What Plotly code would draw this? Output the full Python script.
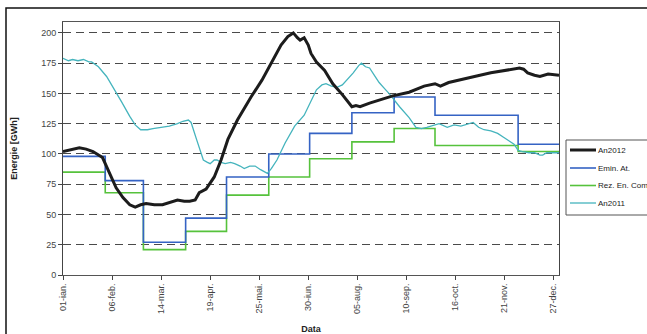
import pandas as pd
import plotly.graph_objects as go

# ---- data -------------------------------------------------------------
year_start = pd.Timestamp("2011-01-01")

# An2012 (daily energy, sampled at day-of-year offsets)
an2012_days = [0, 5, 12, 17, 22, 29, 34, 39, 44, 49, 53, 57, 61, 67, 73, 78, 84, 89,
               93, 97, 100, 105, 111, 116, 121, 128, 133, 138, 146, 153, 160, 165,
               169, 172, 174, 177, 180, 182, 186, 192, 198, 205, 212, 215, 218, 225,
               234, 242, 254, 265, 273, 277, 283, 290, 302, 314, 326, 335, 338, 341,
               346, 350, 356, 364]
an2012_vals = [102, 103, 105, 104, 102, 97, 85, 72, 64, 58, 56, 58, 59, 58, 58, 60, 62, 61,
               61, 62, 68, 71, 81, 95, 112, 128, 138, 147, 161, 175, 190, 197,
               200, 196, 194, 196, 190, 183, 176, 169, 158, 149, 139, 140, 139, 142,
               145, 148, 151, 156, 158, 156, 159, 161, 164, 167, 169, 171, 170, 167,
               165, 164, 166, 165]

# An2011
an2011_days = [0, 4, 7, 11, 15, 19, 21, 26, 32, 38, 43, 49, 53, 57, 62, 66, 72, 78, 84,
               88, 92, 94, 98, 103, 106, 108, 111, 113, 116, 119, 123, 126, 130, 133,
               137, 141, 145, 150, 153, 157, 163, 170, 177, 181, 186, 190, 193, 197,
               201, 205, 209, 213, 217, 219, 222, 225, 229, 232, 236, 240, 247, 254,
               259, 263, 267, 272, 276, 282, 287, 292, 297, 301, 305, 309, 314, 319,
               323, 326, 331, 334, 337, 342, 346, 350, 352, 355, 358, 364]
an2011_vals = [179, 177, 178, 177, 178, 176, 176, 172, 164, 153, 143, 131, 124, 120, 120,
               121, 122, 123, 125, 127, 128, 126, 112, 95, 93, 92, 95, 95, 93, 92, 93,
               92, 90, 88, 90, 90, 87, 84, 88, 95, 109, 123, 132, 141, 153, 157, 158,
               156, 155, 157, 162, 167, 173, 175, 172, 171, 164, 159, 154, 149, 139,
               130, 122, 121, 122, 124, 125, 122, 124, 123, 125, 126, 122, 120, 119,
               117, 114, 112, 108, 103, 102, 101, 101, 99, 99, 101, 101, 101]

# Monthly step series (value holds from the first day of each month)
month_starts = pd.date_range("2011-01-01", periods=12, freq="MS")
emin_vals = [98, 78, 27, 47, 81, 100, 117, 134, 147, 132, 132, 108]
rez_vals = [85, 68, 21, 36, 66, 81, 96, 110, 121, 107, 107, 102]

# x-axis ticks every 36 days
tick_days = [0, 36, 72, 108, 144, 180, 216, 252, 288, 324, 360]
tick_labels = ["01-ian.", "06-feb.", "14-mar.", "19-apr.", "25-mai.", "30-iun.",
               "05-aug.", "10-sep.", "16-oct.", "21-nov.", "27-dec."]
y_ticks = [0, 25, 50, 75, 100, 125, 150, 175, 200]

series_names = ["An2012", "Emin. At.", "Rez. En. Com", "An2011"]


def to_dates(days):
    return [year_start + pd.Timedelta(days=d) for d in days]


year_end = year_start + pd.Timedelta(days=364)
step_x = list(month_starts) + [year_end]

FONT = "Liberation Sans Narrow, Arial Narrow, Liberation Sans, Arial, sans-serif"

styles = {
    "An2012": dict(color="#1c1c1c", width=3),
    "Emin. At.": dict(color="#3563c4", width=1.6),
    "Rez. En. Com": dict(color="#56c23c", width=1.6),
    "An2011": dict(color="#45b4bd", width=1.3),
}

fig = go.Figure()

fig.add_trace(go.Scatter(
    x=step_x, y=rez_vals + [rez_vals[-1]], mode="lines", line_shape="hv",
    name=series_names[2], line=styles[series_names[2]]))
fig.add_trace(go.Scatter(
    x=step_x, y=emin_vals + [emin_vals[-1]], mode="lines", line_shape="hv",
    name=series_names[1], line=styles[series_names[1]]))
fig.add_trace(go.Scatter(
    x=to_dates(an2011_days), y=an2011_vals, mode="lines",
    name=series_names[3], line=styles[series_names[3]]))
fig.add_trace(go.Scatter(
    x=to_dates(an2012_days), y=an2012_vals, mode="lines",
    name=series_names[0], line=styles[series_names[0]]))

W, H = 647, 334
ML, MR, MT, MB = 63, 88, 22, 59
PW, PH = W - ML - MR, H - MT - MB


def px_x(px):
    """Pixel column -> paper x."""
    return (px - ML) / PW


def px_y(py):
    """Pixel row -> paper y."""
    return (H - MB - py) / PH


fig.update_layout(
    width=W, height=H,
    margin=dict(l=ML, r=MR, t=MT, b=MB, autoexpand=False),
    paper_bgcolor="white", plot_bgcolor="white",
    font=dict(family=FONT, size=9, color="#333333"),
    showlegend=False,
    xaxis=dict(
        type="date",
        range=[year_start, year_end],
        tickmode="array",
        tickvals=to_dates(tick_days),
        ticktext=tick_labels,
        tickangle=-90,
        ticks="outside", ticklen=4, tickcolor="#444444",
        showgrid=False, zeroline=False,
        showline=True, linecolor="#555555", linewidth=1, mirror=True,
        title=dict(text="<b>Data</b>", font=dict(family=FONT, size=9, color="#222222"),
                   standoff=12),
        tickfont=dict(family=FONT, size=9, color="#444444"),
    ),
    yaxis=dict(
        range=[0, 209],
        tickmode="array", tickvals=y_ticks,
        ticks="outside", ticklen=4, tickcolor="#444444",
        showgrid=True, gridcolor="#4a4a4a", griddash="8px,5px", gridwidth=1,
        zeroline=False,
        showline=True, linecolor="#444444", linewidth=1, mirror=True,
        title=dict(text="<b>Energie [GWh]</b>",
                   font=dict(family=FONT, size=9, color="#222222"), standoff=22),
        tickfont=dict(family=FONT, size=9, color="#444444"),
    ),
)

# outer frame of the chart area (continues past the right/bottom edges)
fig.add_shape(type="rect", xref="paper", yref="paper",
              x0=px_x(6), x1=px_x(W + 40), y0=px_y(H + 40), y1=px_y(8),
              line=dict(color="#111111", width=1.5), fillcolor="rgba(0,0,0,0)",
              layer="above")

# legend box to the right of the plot, running past the right edge
fig.add_shape(type="rect", xref="paper", yref="paper",
              x0=px_x(566), x1=px_x(W + 20), y0=px_y(215), y1=px_y(140),
              line=dict(color="#555555", width=1), fillcolor="white", layer="above")
legend_rows = [150, 168, 185.5, 203]
for name, row in zip(series_names, legend_rows):
    st = styles[name]
    fig.add_shape(type="line", xref="paper", yref="paper",
                  x0=px_x(570), x1=px_x(596), y0=px_y(row), y1=px_y(row),
                  line=dict(color=st["color"], width=st["width"]), layer="above")
    fig.add_annotation(xref="paper", yref="paper", x=px_x(598), y=px_y(row),
                       text=name, showarrow=False, xanchor="left", yanchor="middle",
                       xshift=-1, borderpad=0,
                       font=dict(family=FONT, size=8, color="#222222"))

fig.write_html("out.html")
